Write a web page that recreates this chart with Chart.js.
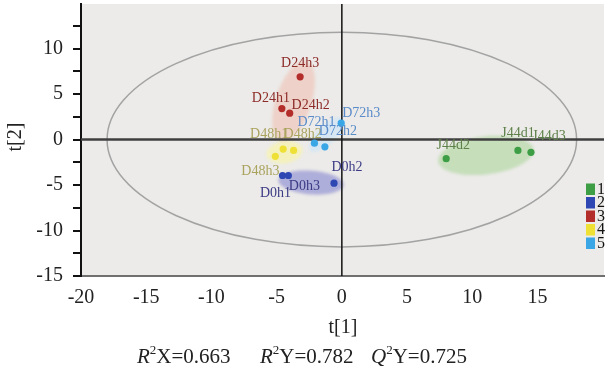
<!DOCTYPE html>
<html>
<head>
<meta charset="utf-8">
<script src="https://cdn.jsdelivr.net/npm/chart.js@4.4.1/dist/chart.umd.min.js"></script>
<style>
  html, body { margin: 0; padding: 0; background: #fff; }
  #wrap { width: 608px; height: 377px; }
</style>
</head>
<body>
<div id="wrap"><canvas id="scoreChart" width="608" height="377"></canvas></div>
<script>
// Score values
const sampleLabels = ['J44d1', 'J44d2', 'J44d3', 'D0h1', 'D0h2', 'D0h3', 'D24h1', 'D24h2', 'D24h3',
  'D48h1', 'D48h2', 'D48h3', 'D72h1', 'D72h2', 'D72h3'];
const sampleGroups = [1, 1, 1, 2, 2, 2, 3, 3, 3, 4, 4, 4, 5, 5, 5];
const t1Values = [13.5, 8.0, 14.5, -4.55, -0.6, -4.1, -4.6, -4.0, -3.2, -4.5, -3.7, -5.1, -2.1, -1.3, -0.05];
const t2Values = [-1.2, -2.1, -1.4, -3.95, -4.8, -3.95, 3.4, 2.9, 6.9, -1.05, -1.2, -1.85, -0.4, -0.8, 1.8];
const groupNames = ['1', '2', '3', '4', '5'];

const xTickLabels = [-20, -15, -10, -5, 0, 5, 10, 15];
const yTickMarks = [-15, -12.5, -10, -7.5, -5, -2.5, 0, 2.5, 5, 7.5, 10, 12.5];
const yTickLabels = [-15, -10, -5, 0, 5, 10];

// Hotelling T2 ellipse half-axes (t[1], t[2])
const hotellingRadii = [18, 11.8];
// group regions: centre and two half-axis vectors, in score units
const regionCenters = [[11.04, -1.74], [-2.36, -4.73], [-3.7, 4.2], [-4.4, -1.4], [-1.15, 0.55]];
const regionAxisA = [[3.65, 0.65], [2.5, -0.27], [1.0, 4.4], [1.37, 0.33], [1.26, 1.79]];
const regionAxisB = [[0.18, -2.07], [-0.07, -1.3], [1.3, -0.6], [0.14, -1.2], [0.49, -0.69]];

// styles
const groupColors = ['#3d9e45', '#2f47b3', '#b32d2a', '#efe036', '#3aa6e6'];
const labelColors = ['#5d7f48', '#3b3b85', '#8c2b27', '#aaa35e', '#5a8bc9'];
const regionFills = ['rgba(160,210,140,0.5)', 'rgba(100,100,200,0.45)', 'rgba(240,165,145,0.36)',
  'rgba(250,245,160,0.6)', 'rgba(200,228,250,0.6)'];
const labelOffsets = {
  J44d1: [0, -17], J44d2: [7, -13], J44d3: [18, -16],
  D0h1: [-7, 18], D0h2: [13, -16], D0h3: [16, 11],
  D24h1: [-11, -10], D24h2: [21, -8], D24h3: [0, -13],
  D48h1: [-14, -15], D48h2: [9, -16], D48h3: [-15, 15],
  D72h1: [2, -21], D72h2: [13, -15], D72h3: [20, -10]
};
const serif = '"Liberation Serif", "DejaVu Serif", serif';

const datasets = groupNames.map((name, g) => ({
  label: name,
  data: sampleLabels
    .map((s, i) => ({ x: t1Values[i], y: t2Values[i], name: s, group: sampleGroups[i] }))
    .filter(p => p.group === g + 1),
  backgroundColor: groupColors[g],
  borderWidth: 0,
  pointRadius: 3.6
}));

const scorePlotDecor = {
  id: 'scorePlotDecor',
  beforeDraw(chart) {
    const { ctx, chartArea: a } = chart;
    ctx.save();
    ctx.fillStyle = '#ecebe9';
    ctx.fillRect(a.left, a.top, a.right - a.left, a.bottom - a.top);
    ctx.restore();
  },
  beforeDatasetsDraw(chart) {
    const { ctx, chartArea: a, scales: { x, y } } = chart;
    ctx.save();
    // shaded group regions
    ctx.filter = 'blur(1.5px)';
    regionCenters.forEach((c, i) => {
      ctx.beginPath();
      for (let k = 0; k <= 72; k++) {
        const th = k / 72 * Math.PI * 2;
        const vx = c[0] + regionAxisA[i][0] * Math.cos(th) + regionAxisB[i][0] * Math.sin(th);
        const vy = c[1] + regionAxisA[i][1] * Math.cos(th) + regionAxisB[i][1] * Math.sin(th);
        const px = x.getPixelForValue(vx), py = y.getPixelForValue(vy);
        if (k === 0) ctx.moveTo(px, py); else ctx.lineTo(px, py);
      }
      ctx.closePath();
      ctx.fillStyle = regionFills[i];
      ctx.fill();
    });
    ctx.filter = 'none';

    // Hotelling ellipse
    const cx = x.getPixelForValue(0), cy = y.getPixelForValue(0);
    ctx.beginPath();
    ctx.ellipse(cx, cy,
      Math.abs(x.getPixelForValue(hotellingRadii[0]) - cx),
      Math.abs(y.getPixelForValue(hotellingRadii[1]) - cy), 0, 0, Math.PI * 2);
    ctx.strokeStyle = '#a3a3a3';
    ctx.lineWidth = 1.5;
    ctx.stroke();

    // zero lines
    ctx.beginPath();
    ctx.moveTo(a.left, cy);
    ctx.lineTo(a.right, cy);
    ctx.strokeStyle = '#3f3f3f';
    ctx.lineWidth = 2.5;
    ctx.stroke();
    ctx.beginPath();
    ctx.moveTo(cx, a.top);
    ctx.lineTo(cx, a.bottom);
    ctx.strokeStyle = '#111';
    ctx.lineWidth = 1.5;
    ctx.stroke();
    ctx.restore();
  },
  afterDatasetsDraw(chart) {
    const { ctx } = chart;
    ctx.save();
    ctx.font = '14px ' + serif;
    ctx.textAlign = 'center';
    ctx.textBaseline = 'middle';
    chart.data.datasets.forEach((ds, g) => {
      const meta = chart.getDatasetMeta(g);
      ds.data.forEach((p, i) => {
        const el = meta.data[i];
        const off = labelOffsets[p.name] || [0, -12];
        ctx.fillStyle = labelColors[g];
        ctx.fillText(p.name, el.x + off[0], el.y + off[1]);
      });
    });
    ctx.restore();
  },
  afterDraw(chart) {
    const { ctx } = chart;
    ctx.save();
    // legend
    ctx.font = '16px ' + serif;
    ctx.textBaseline = 'middle';
    ctx.textAlign = 'left';
    chart.data.datasets.forEach((ds, g) => {
      const top = 183.5 + g * 13.5;
      ctx.fillStyle = groupColors[g];
      ctx.fillRect(586, top, 9, 11.5);
      ctx.fillStyle = '#111';
      ctx.fillText(ds.label, 597, top + 6);
    });

    // axis titles
    ctx.fillStyle = '#222';
    ctx.font = '20px ' + serif;
    ctx.textAlign = 'center';
    ctx.fillText('t[1]', 343, 328);
    ctx.save();
    ctx.translate(16, 137);
    ctx.rotate(-Math.PI / 2);
    ctx.fillText('t[2]', 0, 0);
    ctx.restore();

    // fit statistics
    const drawStat = (xStart, letter, rest) => {
      let px = xStart;
      ctx.textAlign = 'left';
      ctx.font = 'italic 21px ' + serif;
      ctx.fillText(letter, px, 357);
      px += ctx.measureText(letter).width;
      ctx.font = '13px ' + serif;
      ctx.fillText('2', px, 351);
      px += ctx.measureText('2').width;
      ctx.font = '21px ' + serif;
      ctx.fillText(rest, px, 357);
    };
    drawStat(137, 'R', 'X=0.663');
    drawStat(260, 'R', 'Y=0.782');
    drawStat(371, 'Q', 'Y=0.725');
    ctx.restore();
  }
};

new Chart(document.getElementById('scoreChart'), {
  type: 'scatter',
  data: { datasets },
  options: {
    responsive: false,
    animation: false,
    layout: { padding: 0 },
    plugins: { legend: { display: false }, tooltip: { enabled: false } },
    scales: {
      x: {
        type: 'linear',
        min: -20,
        max: 20.1,
        afterBuildTicks: s => { s.ticks = xTickLabels.map(v => ({ value: v })); },
        afterFit: s => { s.height = 101; s.paddingLeft = 0; s.paddingRight = 0; },
        grid: { display: true, drawOnChartArea: false, drawTicks: false },
        border: { color: '#707070', width: 2 },
        ticks: {
          color: '#222', padding: 10, maxRotation: 0, autoSkip: false,
          font: { family: serif, size: 20 },
          callback: v => String(v)
        }
      },
      y: {
        type: 'linear',
        min: -15,
        max: 14.9,
        afterBuildTicks: s => { s.ticks = yTickMarks.map(v => ({ value: v })); },
        afterFit: s => { s.width = 81; s.paddingTop = 0; s.paddingBottom = 0; },
        grid: { drawOnChartArea: false, drawTicks: true, tickLength: 8, color: '#111', lineWidth: 2 },
        border: { color: '#111', width: 2 },
        ticks: {
          color: '#222', padding: 10, autoSkip: false,
          font: { family: serif, size: 20 },
          callback: v => yTickLabels.includes(v) ? String(v) : ''
        }
      }
    }
  },
  plugins: [scorePlotDecor]
});
</script>
</body>
</html>
